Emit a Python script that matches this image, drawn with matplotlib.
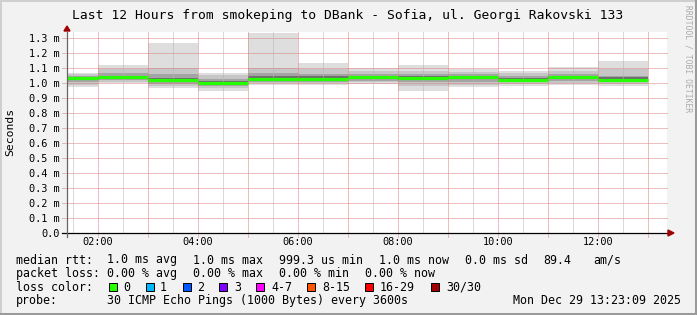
import numpy as np
import matplotlib.pyplot as plt
from matplotlib.patches import Rectangle, Polygon
from matplotlib.lines import Line2D

W, H = 697, 315

# hourly bins (start hour), values in ms
bin_start = [1, 2, 3, 4, 5, 6, 7, 8, 9, 10, 11, 12]
median = [1.033, 1.040, 1.017, 0.998, 1.027, 1.027, 1.040, 1.031, 1.040, 1.020, 1.040, 1.020]
ping_min = [0.971, 1.000, 0.967, 0.948, 0.989, 0.989, 0.993, 0.949, 0.971, 0.980, 0.987, 0.980]
ping_max = [1.067, 1.120, 1.265, 1.069, 1.335, 1.135, 1.098, 1.120, 1.091, 1.080, 1.109, 1.147]
p10 = [0.990, 1.010, 0.980, 0.965, 1.000, 1.000, 1.005, 0.980, 0.990, 0.995, 1.000, 0.995]
p90 = [1.060, 1.090, 1.100, 1.050, 1.100, 1.090, 1.080, 1.080, 1.075, 1.065, 1.080, 1.090]
p25 = [1.010, 1.020, 0.995, 0.980, 1.010, 1.010, 1.015, 1.005, 1.010, 1.005, 1.015, 1.005]
p75 = [1.050, 1.070, 1.060, 1.030, 1.070, 1.060, 1.060, 1.060, 1.060, 1.045, 1.060, 1.050]
p40 = [1.025, 1.030, 1.008, 0.990, 1.020, 1.020, 1.030, 1.022, 1.030, 1.012, 1.030, 1.012]
p60 = [1.042, 1.050, 1.035, 1.012, 1.045, 1.045, 1.048, 1.045, 1.048, 1.035, 1.050, 1.040]

t_start = 1 + 23 / 60 + 9 / 3600
t_end = t_start + 12
ytick_vals = [round(0.1 * i, 1) for i in range(14)]
xtick_hours = [2, 4, 6, 8, 10, 12]

loss_labels = ['0', '1', '2', '3', '4-7', '8-15', '16-29', '30/30']
loss_colors = ['#26ff00', '#00b8ff', '#0059ff', '#7e00ff', '#ff00ff', '#ff5500', '#ff0000', '#a10000']
loss_box_x = [109, 146, 183, 219, 256, 307, 365, 431]
loss_text_x = [123, 160, 197, 234, 271, 322, 380, 446]


def fx(px):
    return px / W


def fy(py):
    return 1 - py / H


fig = plt.figure(figsize=(W / 100, H / 100), dpi=100, facecolor='#f2f2f2')
ax = fig.add_axes([fx(67), fy(233), 600 / W, 201 / H])
ax.set_facecolor('white')
ax.set_xlim(t_start, t_end)
ax.set_ylim(0, 1.34)
for s in ax.spines.values():
    s.set_visible(False)

# smoke layers, light outside -> dark inside
layers = [(ping_min, ping_max, '#dedede'), (p10, p90, '#c6c6c6'),
          (p25, p75, '#a4a4a4'), (p40, p60, '#6e6e6e')]
for lo, hi, c in layers:
    for i, h in enumerate(bin_start):
        ax.add_patch(Rectangle((h, lo[i]), 1, hi[i] - lo[i], facecolor=c,
                               edgecolor='none', zorder=1))

# grid (dotted, on top of smoke)
mgrid = '#d98080'
grid_ls = (0, (1, 1))
for v in ytick_vals[1:]:
    ax.plot([-0.008, 1], [v, v], transform=ax.get_yaxis_transform(), color=mgrid,
            lw=0.72, ls=grid_ls, clip_on=False, zorder=2)
for hh in range(2, 14):
    ax.plot([hh, hh], [-0.02, 1], transform=ax.get_xaxis_transform(), color=mgrid,
            lw=0.72, ls=grid_ls, clip_on=False, zorder=2)
    ax.plot([hh - 0.5, hh - 0.5], [0, 1], transform=ax.get_xaxis_transform(),
            color='#b4b4b4', lw=0.72, ls=grid_ls, zorder=2)

# median rtt
for i, h in enumerate(bin_start):
    ax.plot([h, h + 1], [median[i], median[i]], color='#26ff00', lw=2.3,
            solid_capstyle='butt', zorder=3)

# axes with arrows
ax.plot([-0.008, 1.002], [0, 0], transform=ax.transAxes, color='black', lw=0.9,
        clip_on=False, zorder=4)
ax.plot([0, 0], [-0.02, 1.0], transform=ax.transAxes, color='#666666', lw=0.9,
        clip_on=False, zorder=4)
fig.patches.append(Polygon([[fx(668), fy(230)], [fx(668), fy(236)], [fx(674), fy(233)]],
                           closed=True, color='#a00000', transform=fig.transFigure))
fig.patches.append(Polygon([[fx(64), fy(31)], [fx(70), fy(31)], [fx(67), fy(26)]],
                           closed=True, color='#a00000', transform=fig.transFigure))

mono = 'DejaVu Sans Mono'
ax.set_yticks(ytick_vals)
ax.set_yticklabels(['0.0' if v == 0 else '%.1f m' % v for v in ytick_vals],
                   family=mono, fontsize=7.4)
ax.set_xticks(xtick_hours)
ax.set_xticklabels(['%02d:00' % h for h in xtick_hours], family=mono, fontsize=7.4)
ax.tick_params(axis='both', length=0, colors='black')
ax.tick_params(axis='y', pad=5)
ax.tick_params(axis='x', pad=3)

fig.text(fx(10), fy(132), 'Seconds', rotation=90, ha='center', va='center',
         family=mono, fontsize=8.2)
fig.text(fx(348), fy(18.5), 'Last 12 Hours from smokeping to DBank - Sofia, ul. Georgi Rakovski 133',
         ha='center', va='baseline', family=mono, fontsize=9.4)
fig.text(fx(688), fy(5), 'RRDTOOL / TOBI OETIKER', rotation=270, ha='center', va='top',
         family=mono, fontsize=5.8, color='#aaaaaa')

fs = 8.4
rows = [
    (263.5, [(16, 'median rtt:'), (107, '1.0 ms avg'), (193, '1.0 ms max'),
             (279, '999.3 us min'), (379, '1.0 ms now'), (465, '0.0 ms sd'),
             (543, '89.4'), (593, 'am/s')]),
    (277, [(16, 'packet loss:'), (107, '0.00 % avg'), (193, '0.00 % max'),
           (279, '0.00 % min'), (365, '0.00 % now')]),
    (290.7, [(16, 'loss color:')]),
    (304, [(16, 'probe:'), (107, '30 ICMP Echo Pings (1000 Bytes) every 3600s'),
           (513, 'Mon Dec 29 13:23:09 2025')]),
]
for yb, items in rows:
    for xp, txt in items:
        fig.text(fx(xp), fy(yb), txt, ha='left', va='baseline', family=mono, fontsize=fs)

for bx, tx, lab, c in zip(loss_box_x, loss_text_x, loss_labels, loss_colors):
    fig.patches.append(Rectangle((fx(bx), fy(290.7)), 8 / W, 8 / H, facecolor=c,
                                 edgecolor='black', lw=0.7, transform=fig.transFigure))
    fig.text(fx(tx), fy(290.7), lab, ha='left', va='baseline', family=mono, fontsize=fs)

# frame
fig.add_artist(Line2D([0, 1], [fy(0.5), fy(0.5)], transform=fig.transFigure, color='#cfcfcf', lw=1.4))
fig.add_artist(Line2D([fx(0.5), fx(0.5)], [0, 1], transform=fig.transFigure, color='#cfcfcf', lw=1.4))
fig.add_artist(Line2D([0, 1], [fy(313.5), fy(313.5)], transform=fig.transFigure, color='#9a9a9a', lw=2.2))
fig.add_artist(Line2D([fx(695.5), fx(695.5)], [0, 1], transform=fig.transFigure, color='#9a9a9a', lw=2.2))

fig.savefig('out.png', dpi=100, facecolor=fig.get_facecolor())
